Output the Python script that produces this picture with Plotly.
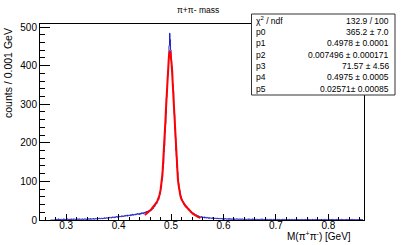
import numpy as np
import plotly.graph_objects as go

# ---------------- data ----------------
title_text = "π+π- mass"
x_title = "M(π<sup>+</sup>π<sup>-</sup>) [GeV]"
y_title = "counts / 0.001 GeV"

bin_low_edge = 0.270
bin_width = 0.001

counts_a = [0,0,0,0,0,0,0,0,0,2, 1,0,2,1,1,3,0,1,2,1, 2,1,1,0,2,3,1,2,0,1, 2,1,3,2,1,2,0,2,1,3,
            1,2,2,1,3,2,2,1,2,3, 1,2,3,2,1,3,2,2,1,2, 3,2,1,2,3,2,2,3,1,2, 3,2,3,2,2,4,2,3,2,3]
counts_b = [3,2,4,3,2,3,4,3,3,4, 3,4,3,5,4,3,4,5,4,3, 5,4,4,6,5,4,5,6,5,5, 6,5,7,6,6,7,5,7,8,6,
            7,8,6,8,7,9,8,7,9,8, 9,8,10,9,8,10,11,9,10,9, 11,10,12,10,11,12,10,13,11,12,
            12,13,11,14,12,13,15,12,14,13, 14,15,13,16,14,15,17,15,16,14, 17,15,18,16,19,17,18,16,20,18]
counts_c = [19,21,18,22,20,23,21,24,22,25, 26,24,28,27,31,29,33,35,34,38,
            41,44,42,48,50,54,53,61,66,70, 80,86,102,110,133,145,176,192,226,248,
            276,318,334,372,388,420,452,484,468,441, 415,399,390,352,334,292,273,235,214,180,
            164,136,125,103,96,80,77,65,63,55, 55,49,46,47,41,43,37,39,34,36,
            33,31,30,26,28,25,24,21,22,20, 19,17,18,15,16,14,13,14,11,12, 10,9,11,8,9,7]
counts_d = [8,7,9,6,8,7,6,8,5,7, 6,5,7,6,5,6,4,6,5,5, 5,4,6,4,5,3,5,4,4,5, 4,3,5,4,3,4,3,4,3,4,
            3,4,2,3,5,3,2,4,3,3, 2,3,3,2,4,2,3,2,3,2, 3,2,2,3,1,3,2,2,3,2, 2,3,1,2,2,3,2,1,2,3,
            2,1,2,2,3,1,2,2,1,2, 2,1,3,2]
counts_e = [1,2,1,2,1,3,1,2,1,1,2,1, 2,1,1,2,0,1,2,1,2,1,1,3, 1,2,1,1,0,2,1,1,2,1,2,1,
            1,1,2,0,1,2,1,1,1,2,0,1, 2,1,1,1,2,1,0,1,2,1,1,1, 1,0,2,1,1,2,1,1,0,1,2,1,
            1,1,0,2,1,1,1,0,2,1,1,0, 1,2,1,0,1,1,2,1,1,0,1,1, 0,1,1,2,1,0,1,1,1,2,0,1,
            1,1,0,1,2,1,1,0,1,1,1,2, 0,1,1,1,0,2,1,1,0,1,1,1, 1,0,1,1,2,0,1,1,1,0,1,2,
            1,1,0,1,1,1,0,2,1,1,0,1, 0,1,2,1,0,1,1,1,0,1,2,1, 1,0,1,1,1,0,1,2,1,0,1,1,
            1,1,0,1,0,2,1,1,0,1,1,0, 1,0,1,2,1,1,0,1,1,0,1,1, 0,1,1,0,1,1,2,0,1,1,0,1]
counts = counts_a + counts_b + counts_c + counts_d + counts_e

fit_x = [0.450,0.452,0.454,0.456,0.458,0.460,0.462,0.464,0.466,0.468,0.470,0.472,0.474,0.476,0.478,
         0.480,0.481,0.482,0.483,0.484,0.485,0.486,0.487,0.488,0.489,0.490,0.491,0.492,0.493,0.494,
         0.495,0.496,0.497,0.4978,0.498,0.499,0.500,0.501,0.502,0.503,0.504,0.505,0.506,0.507,0.508,
         0.509,0.510,0.511,0.512,0.513,0.514,0.515,0.516,0.518,0.520,0.522,0.524,0.526,0.528,0.530,
         0.532,0.534,0.536,0.538,0.540,0.542,0.544,0.546,0.548,0.550,0.552,0.554,0.556]
fit_y = [13.0,15.0,17.1,19.5,22.0,24.7,27.6,30.6,33.8,37.2,40.8,44.8,49.5,55.8,64.8,
         78.6,87.9,99.3,113.1,129.4,148.6,170.5,195.2,222.2,251.1,281.1,311.3,340.7,368.0,392.1,
         411.8,426.3,434.7,436.8,436.6,432.0,421.0,404.3,382.6,357.1,328.7,298.9,268.5,238.9,210.5,
         184.4,160.7,139.9,121.8,106.4,93.6,83.1,74.4,61.8,53.4,47.4,42.9,39.0,35.5,32.2,
         29.1,26.1,23.3,20.7,18.3,16.0,13.95,12.1,10.4,8.9,7.6,6.4,5.4]

stat_labels = ["χ<sup>2</sup> / ndf", "p0", "p1", "p2", "p3", "p4", "p5"]
stat_values = ["132.9 / 100", "365.2 ± 7.0", "0.4978 ± 0.0001", "0.007496 ± 0.000171",
               "71.57 ± 4.56", "0.4975 ± 0.0005", "0.02571± 0.00085"]

x_range = [0.25, 0.868]
y_range = [0, 508]

# ---------------- layout geometry ----------------
W, H = 405, 245
L, R, T, B = 40, 364, 24, 220
FONT = "Liberation Sans, Arial, Helvetica, sans-serif"

def px(xp):
    return (xp - L) / (R - L)

def py(yp):
    return (B - yp) / (B - T)

edges = bin_low_edge + bin_width * np.arange(len(counts) + 1)
hx = list(edges)
hy = list(counts) + [counts[-1]]

fig = go.Figure()
fig.add_trace(go.Scatter(x=hx, y=hy, mode="lines", line=dict(color="#2323c8", width=1, shape="hv"),
                         hoverinfo="skip", showlegend=False))
fig.add_trace(go.Scatter(x=fit_x, y=fit_y, mode="lines", line=dict(color="#ff0000", width=2),
                         hoverinfo="skip", showlegend=False))

fig.update_layout(
    width=W, height=H,
    margin=dict(l=L, r=W - R, t=T, b=H - B, pad=0),
    paper_bgcolor="white", plot_bgcolor="white",
    font=dict(family=FONT, size=10, color="#000"),
    showlegend=False,
)
fig.update_xaxes(range=x_range, showgrid=False, zeroline=False,
                 showline=True, linecolor="#000", linewidth=1, mirror=True,
                 ticks="inside", ticklen=6, tickcolor="#000", tickwidth=1,
                 dtick=0.1, tick0=0.3, tickformat=".1f", tickfont=dict(size=10, family=FONT),
                 ticklabelstandoff=-4,
                 minor=dict(ticks="inside", ticklen=3, dtick=0.02, tickcolor="#000", tickwidth=1))
fig.update_yaxes(range=y_range, showgrid=False, zeroline=False,
                 showline=True, linecolor="#000", linewidth=1, mirror=True,
                 ticks="inside", ticklen=10, tickcolor="#000", tickwidth=1,
                 dtick=100, tick0=0, tickfont=dict(size=10, family=FONT),
                 minor=dict(ticks="inside", ticklen=5, dtick=20, tickcolor="#000", tickwidth=1))

ann = []
ann.append(dict(text=title_text, x=px(198), y=py(10), xref="paper", yref="paper",
                xanchor="center", yanchor="middle", showarrow=False, font=dict(size=8.5, family=FONT)))
ann.append(dict(text=y_title, x=px(8), y=py(26), xref="paper", yref="paper", textangle=-90,
                xanchor="center", yanchor="top", showarrow=False, font=dict(size=10.5, family=FONT)))
ann.append(dict(text=x_title, x=px(353), y=py(236), xref="paper", yref="paper",
                xanchor="right", yanchor="middle", showarrow=False, font=dict(size=10, family=FONT)))

# stats box
box_l, box_r, box_t, box_b = 251.5, 395, 14, 95
shapes = [dict(type="rect", xref="paper", yref="paper", x0=px(box_l), x1=px(box_r),
               y0=py(box_b), y1=py(box_t), line=dict(color="#333", width=1),
               fillcolor="white", layer="above")]
row_y = [20.7, 32, 43.3, 54.6, 65.9, 77.2, 88.5]
for lab, val, yy in zip(stat_labels, stat_values, row_y):
    ann.append(dict(text=lab, x=px(254), y=py(yy), xref="paper", yref="paper",
                    xanchor="left", yanchor="middle", showarrow=False, font=dict(size=8.5, family=FONT)))
    ann.append(dict(text=val, x=px(391), y=py(yy), xref="paper", yref="paper",
                    xanchor="right", yanchor="middle", showarrow=False, font=dict(size=8.5, family=FONT)))

fig.update_layout(annotations=ann, shapes=shapes)
fig.write_html("out.html", config={"displayModeBar": False},
               post_script="document.body.style.margin='0';document.body.style.padding='0';")
